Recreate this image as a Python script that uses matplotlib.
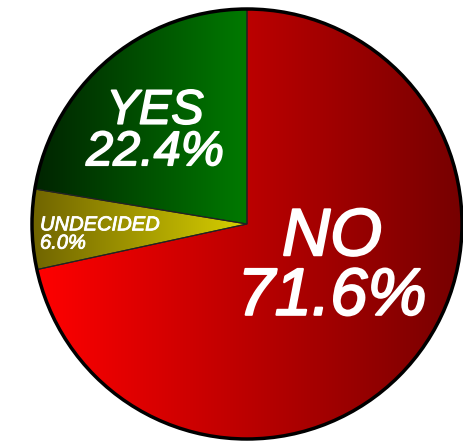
import matplotlib
matplotlib.use("Agg")
import matplotlib.pyplot as plt
import matplotlib.patheffects as pe
from matplotlib.colors import to_rgb
from matplotlib.patches import Circle
import numpy as np

labels = ["NO", "UNDECIDED", "YES"]
shares = [71.6, 6.0, 22.4]
# colour at the left and right end of the horizontal gradient of each wedge
left_cols = ["#ff0000", "#706400", "#002400"]
right_cols = ["#760000", "#d8d000", "#007a00"]

fig = plt.figure(figsize=(4.63, 4.42), dpi=100)
ax = fig.add_axes([0, 0, 1, 1])

cx, cy, r = 247, 218, 215
wedges, _ = ax.pie(shares, startangle=90, counterclock=False, center=(cx, cy),
                   radius=r, frame=True,
                   wedgeprops=dict(linewidth=0.8, edgecolor="#222222"))

for w, c0, c1 in zip(wedges, left_cols, right_cols):
    t = np.radians(np.linspace(w.theta1, w.theta2, 200))
    xs = np.concatenate([[cx], cx + r * np.cos(t)])
    ys = np.concatenate([[cy], cy + r * np.sin(t)])
    g = np.linspace(0, 1, 256)[None, :, None]
    img = (1 - g) * np.array(to_rgb(c0)) + g * np.array(to_rgb(c1))
    im = ax.imshow(img, extent=(xs.min(), xs.max(), ys.min(), ys.max()),
                   aspect="auto", interpolation="bilinear", zorder=2)
    im.set_clip_path(w)
    w.set_facecolor("none")
    w.set_zorder(3)

ax.add_patch(Circle((cx, cy), r, fill=False, edgecolor="black", linewidth=2.5, zorder=4))

ax.set_xlim(0, 463)
ax.set_ylim(0, 442)
ax.set_aspect("equal")
ax.axis("off")

font = ["Liberation Sans", "DejaVu Sans"]

ax.text(332, 174, "NO\n71.6%", ha="center", va="center", color="white",
        fontsize=48, style="italic", family=font, linespacing=0.95,
        path_effects=[pe.withStroke(linewidth=1.5, foreground="white")], zorder=5)
ax.text(155, 310, "YES\n22.4%", ha="center", va="center", color="white",
        fontsize=35, style="italic", family=font, linespacing=0.9,
        path_effects=[pe.withStroke(linewidth=1.2, foreground="white")], zorder=5)
ax.text(40, 208, "UNDECIDED\n6.0%", ha="left", va="center", color="white",
        fontsize=14.5, style="italic", family=font, linespacing=0.95,
        path_effects=[pe.withStroke(linewidth=0.6, foreground="white")], zorder=5)

fig.savefig("out.png", dpi=100)
